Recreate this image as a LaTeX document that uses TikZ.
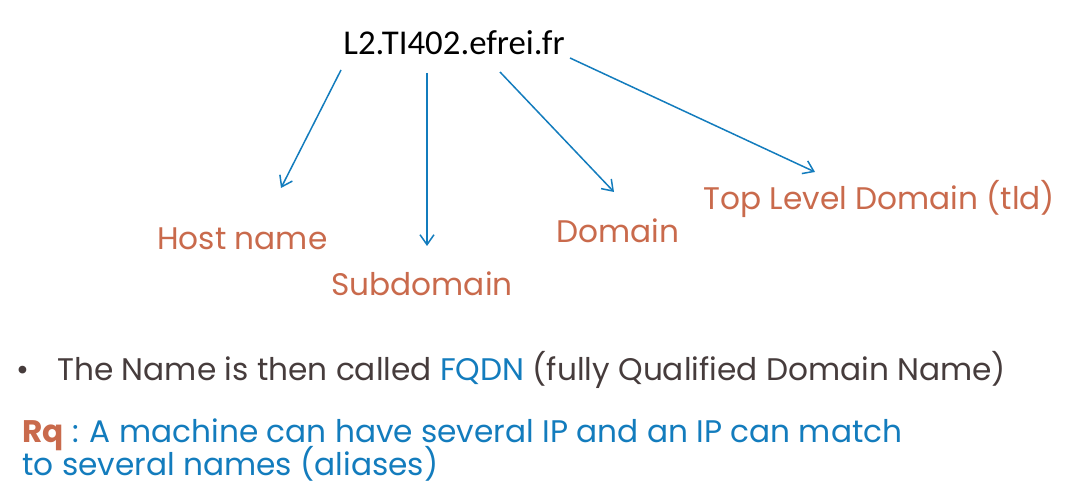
\documentclass[tikz,border=0pt]{standalone}
\usepackage{fontspec}
\setmainfont{Poppins}
\newfontfamily\calibrifont{Carlito}
\usetikzlibrary{arrows.meta}
\definecolor{rqorange}{HTML}{C96A4C}
\definecolor{rqblue}{HTML}{137CBD}
\definecolor{rqdark}{HTML}{463C3C}
\begin{document}
\begin{tikzpicture}[x=0.5pt, y=-0.5pt,
   part/.style={anchor=base west, inner sep=0pt, text=rqorange, font=\fontsize{15.6}{19}\selectfont},
   line/.style={anchor=base west, inner sep=0pt, font=\fontsize{15.6}{19}\selectfont},
   pointer/.style={draw=rqblue, line width=0.75pt, -{Straight Barb[length=5pt,width=7pt]}}]
   \useasboundingbox (0,0) rectangle (1075,501);
   % the name
   \node[anchor=base west, inner sep=0pt, font=\calibrifont\fontsize{17.4}{20}\selectfont] (fqdn) at (343,55) {L2.TI402.efrei.fr};
   % its parts
   \node[part] (host) at (157,250) {Host name};
   \node[part] (sub) at (331,296) {Subdomain};
   \node[part] (dom) at (556,243) {Domain};
   \node[part] (tld) at (703,210) {Top Level Domain (tld)};
   \coordinate (hostfrom) at (341,70);
   \coordinate (hostto) at (281,188);
   \coordinate (subfrom) at (427,73);
   \coordinate (subto) at (427,246);
   \coordinate (domfrom) at (500,72);
   \coordinate (domto) at (614,192);
   \coordinate (tldfrom) at (570,58);
   \coordinate (tldto) at (815,172);
   \draw[pointer] (hostfrom) -- (hostto);
   \draw[pointer] (subfrom) -- (subto);
   \draw[pointer] (domfrom) -- (domto);
   \draw[pointer] (tldfrom) -- (tldto);
   % remarks
   \node[line, text=rqdark] (dot) at (16,381) {•};
   \node[line, text=rqdark] (fqdnline) at (57,381) {The Name is then called \textcolor{rqblue}{FQDN} (fully Qualified Domain Name)};
   \node[line, text=rqblue] (rq) at (22,443) {\textcolor{rqorange}{\bfseries Rq} : A machine can have several IP and an IP can match};
   \node[line, text=rqblue] (rqnext) at (22,475) {to several names (aliases)};
\end{tikzpicture}
\end{document}
